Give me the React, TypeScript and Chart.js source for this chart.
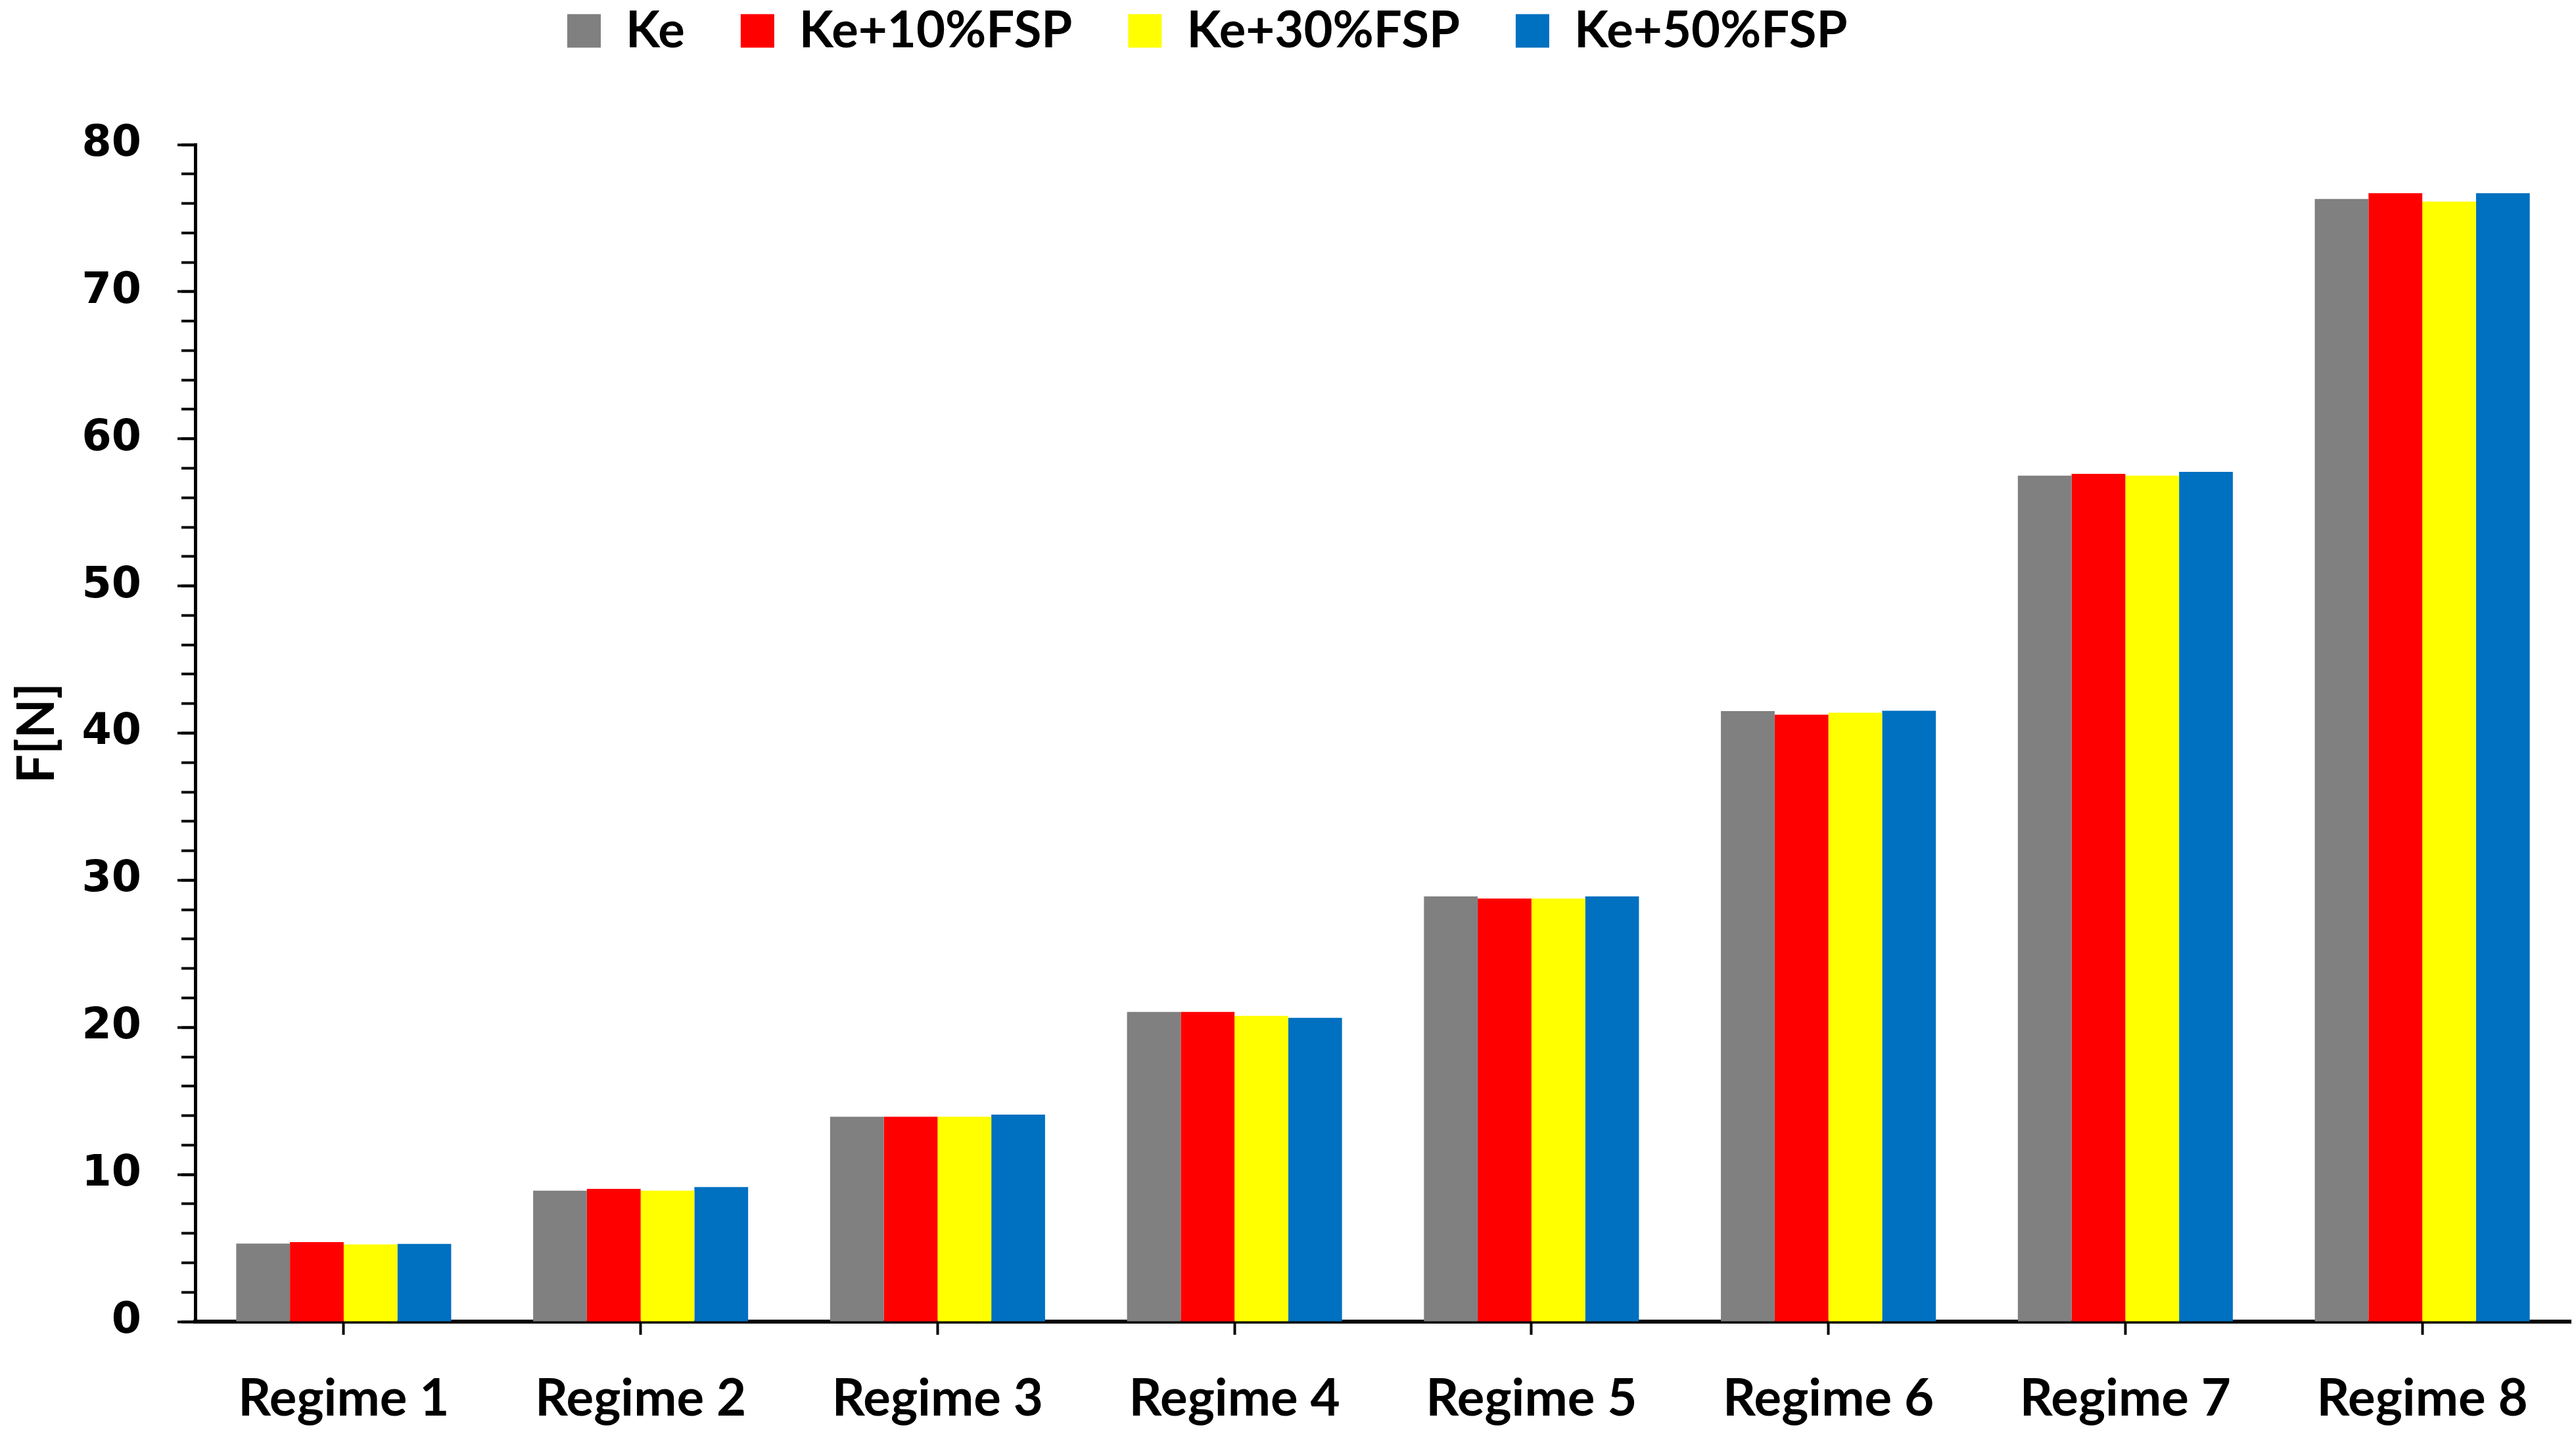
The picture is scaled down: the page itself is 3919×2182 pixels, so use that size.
import React, { useEffect, useRef } from "react";
import { Chart, registerables } from "chart.js";

Chart.register(...registerables);

const categories = ["Regime 1", "Regime 2", "Regime 3", "Regime 4", "Regime 5", "Regime 6", "Regime 7", "Regime 8"];
const seriesNames = ["Ke", "Ke+10%FSP", "Ke+30%FSP", "Ke+50%FSP"];
const ke = [5.3, 8.9, 13.93, 21.05, 28.9, 41.5, 57.5, 76.3];
const ke10 = [5.4, 9.02, 13.93, 21.05, 28.75, 41.25, 57.62, 76.7];
const ke30 = [5.25, 8.9, 13.93, 20.78, 28.75, 41.38, 57.5, 76.12];
const ke50 = [5.28, 9.15, 14.07, 20.65, 28.9, 41.52, 57.75, 76.7];
const colors = ["#808080", "#FF0000", "#FFFF00", "#0070C0"];
const yMin = 0;
const yMax = 80;
const yMajorStep = 10;
const yMinorStep = 2;
const yTitle = "F[N]";

const W = 3919;
const H = 2182;
const LEGEND_PAD = 85;
const LEGEND_FONT = 76;
const LEGEND_CENTER_Y = 47;
const LEGEND_START_X = 863;

const legendShift = {
  id: "legendShift",
  afterLayout(chart: any) {
    const l = chart.legend;
    if (!l) return;
    const currentCenter = l.top + LEGEND_PAD + LEGEND_FONT / 2;
    const dy = LEGEND_CENTER_Y - currentCenter;
    l.top += dy;
    l.bottom += dy;
    const dx = LEGEND_START_X - LEGEND_PAD - l.left;
    l.left += dx;
    l.right += dx;
  },
};

export default function App() {
  const ref = useRef<HTMLCanvasElement | null>(null);

  useEffect(() => {
    if (!ref.current) return;
    const allSeries = [ke, ke10, ke30, ke50];
    const chart = new Chart(ref.current, {
      type: "bar",
      data: {
        labels: categories,
        datasets: allSeries.map((d, i) => ({
          label: seriesNames[i],
          data: d,
          backgroundColor: colors[i],
          borderWidth: 0,
          categoryPercentage: 0.724,
          barPercentage: 1.0,
        })),
      },
      plugins: [legendShift],
      options: {
        animation: false,
        responsive: true,
        maintainAspectRatio: false,
        devicePixelRatio: 1,
        layout: { padding: { left: 0, right: 8, top: 49, bottom: 0 } },
        plugins: {
          legend: {
            display: true,
            position: "top",
            align: "start",
            labels: {
              boxWidth: 51,
              boxHeight: 51,
              padding: LEGEND_PAD,
              color: "#000",
              font: { family: "Lato", weight: "bold", size: LEGEND_FONT },
            },
          },
          tooltip: { enabled: false },
          title: { display: false },
        },
        scales: {
          x: {
            type: "category",
            offset: true,
            grid: {
              offset: false,
              drawOnChartArea: false,
              drawTicks: true,
              tickLength: 20,
              tickWidth: 4,
              tickColor: "#000",
            },
            border: { display: true, color: "#000", width: 6 },
            ticks: {
              color: "#000",
              padding: 51,
              maxRotation: 0,
              autoSkip: false,
              font: { family: "Lato", weight: "bold", size: 78 },
            },
            afterFit(s: any) {
              s.height = 171;
            },
          },
          y: {
            type: "linear",
            position: "left",
            min: yMin,
            max: yMax,
            weight: 0,
            ticks: {
              stepSize: yMajorStep,
              color: "#000",
              padding: 55,
              font: { family: "DejaVu Sans", weight: "bold", size: 65 },
            },
            grid: {
              drawOnChartArea: false,
              drawTicks: true,
              tickLength: 27,
              tickWidth: 4,
              tickColor: "#000",
            },
            border: { display: true, color: "#000", width: 5 },
            title: {
              display: true,
              text: yTitle,
              color: "#000",
              padding: { top: 10, bottom: 0 },
              font: { family: "Lato", weight: "bold", size: 78 },
            },
            afterFit(s: any) {
              s.width = 297;
            },
          },
          y2: {
            type: "linear",
            position: "left",
            min: yMin,
            max: yMax,
            weight: -1,
            ticks: { stepSize: yMinorStep, display: false },
            grid: {
              drawOnChartArea: false,
              drawTicks: true,
              tickLength: 21,
              tickWidth: 4,
              tickColor: "#000",
            },
            border: { display: false },
            afterFit(s: any) {
              s.width = 0;
            },
          },
        },
      },
    } as any);
    return () => chart.destroy();
  }, []);

  return (
    <div style={{ position: "absolute", left: 0, top: 0, width: W, height: H, background: "#fff" }}>
      <canvas ref={ref} />
    </div>
  );
}
